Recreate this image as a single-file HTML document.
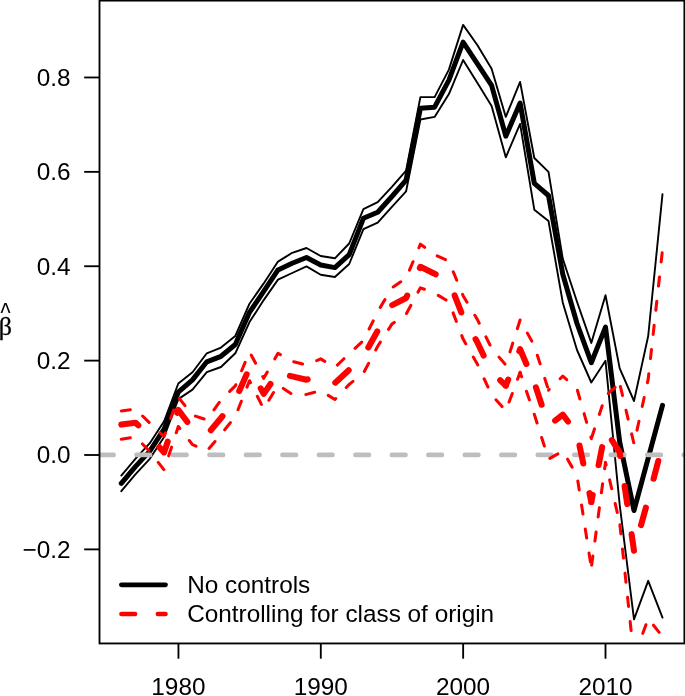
<!DOCTYPE html>
<html lang="en"><head><meta charset="utf-8"><title>Coefficient plot</title>
<style>html,body{margin:0;padding:0;background:#fff}svg{display:block}text{font-family:"Liberation Sans",Arial,sans-serif;font-size:24.33px;fill:#000}.sym{font-family:"Liberation Serif","DejaVu Serif",serif}</style></head><body>
<svg width="685" height="696" viewBox="0 0 685 696">
<rect width="685" height="696" fill="#fff"/>
<defs><clipPath id="c"><rect x="99.50" y="0.60" width="584.90" height="642.85"/></clipPath></defs>
<g clip-path="url(#c)" fill="none" stroke-linejoin="round" stroke-linecap="round">
<polyline points="121.3,475.6 135.6,458.6 149.8,443.2 164.1,421.3 178.3,383.5 192.5,372.2 206.8,353.3 221.0,347.6 235.3,336.0 249.5,303.7 263.7,283.4 278.0,261.6 292.2,252.8 306.5,248.0 320.7,256.0 334.9,258.3 349.2,243.5 363.4,209.2 377.7,202.1 391.9,186.8 406.1,170.7 420.4,97.1 434.6,97.1 448.9,69.6 463.1,24.9 477.3,45.0 491.6,68.7 505.8,116.9 520.1,81.9 534.3,158.0 548.5,171.9 562.8,258.8 577.0,301.8 591.3,342.9 605.5,295.2 619.7,368.4 634.0,401.0 648.2,336.0 662.5,194.1" stroke="#000" stroke-width="1.90"/>
<polyline points="121.3,491.2 135.6,474.2 149.8,458.8 164.1,436.9 178.3,399.1 192.5,389.6 206.8,372.2 221.0,367.0 235.3,353.3 249.5,322.1 263.7,300.1 278.0,279.6 292.2,273.0 306.5,266.4 320.7,274.7 334.9,277.0 349.2,264.0 363.4,229.2 377.7,222.7 391.9,206.9 406.1,191.3 420.4,119.5 434.6,116.9 448.9,94.1 463.1,60.0 477.3,82.7 491.6,105.9 505.8,157.3 520.1,123.9 534.3,209.7 548.5,221.0 562.8,302.7 577.0,350.0 591.3,382.5 605.5,360.8 619.7,504.9 634.0,619.3 648.2,580.8 662.5,617.6" stroke="#000" stroke-width="1.90"/>
<polyline points="121.3,483.4 135.6,466.4 149.8,451.1 164.1,429.2 178.3,392.2 192.5,379.9 206.8,361.8 221.0,356.3 235.3,344.5 249.5,312.3 263.7,291.4 278.0,269.9 292.2,263.3 306.5,257.5 320.7,265.0 334.9,267.6 349.2,254.6 363.4,218.3 377.7,212.2 391.9,196.5 406.1,180.1 420.4,108.2 434.6,107.2 448.9,80.1 463.1,42.1 477.3,63.6 491.6,85.3 505.8,136.2 520.1,103.0 534.3,183.3 548.5,195.5 562.8,274.2 577.0,323.5 591.3,362.7 605.5,327.1 619.7,442.0 634.0,510.5 648.2,458.1 662.5,405.3" stroke="#000" stroke-width="5.00"/>
<line x1="100" y1="454.9" x2="685" y2="454.9" stroke="#bebebe" stroke-width="4.56" stroke-dasharray="13.68 22.80"/>
<polyline points="121.3,410.9 135.6,409.0 149.8,423.2 164.1,436.4 178.3,397.2 192.5,415.1 206.8,419.9 221.0,400.0 235.3,385.9 249.5,351.8 263.7,378.3 278.0,353.3 292.2,361.3 306.5,365.1 320.7,358.9 334.9,367.4 349.2,353.7 363.4,340.5 377.7,311.8 391.9,287.8 406.1,278.2 420.4,244.2 434.6,254.6 448.9,261.2 463.1,295.7 477.3,319.4 491.6,348.3 505.8,365.1 520.1,319.9 534.3,345.7 548.5,390.1" stroke="#f00" stroke-width="3.04" stroke-dasharray="9.12 15.20" stroke-dashoffset="0.00"/>
<polyline points="548.5,390.1 562.8,376.1 577.0,388.9 591.3,438.7" stroke="#f00" stroke-width="3.04" stroke-dasharray="9.12 15.20" stroke-dashoffset="8.10"/>
<polyline points="591.3,438.7 605.5,395.8" stroke="#f00" stroke-width="3.04" stroke-dasharray="9.12 15.20" stroke-dashoffset="23.06"/>
<polyline points="605.5,395.8 619.7,383.5" stroke="#f00" stroke-width="3.04" stroke-dasharray="9.12 15.20" stroke-dashoffset="20.69"/>
<polyline points="619.7,383.5 634.0,443.9 648.2,379.2 662.5,249.8" stroke="#f00" stroke-width="3.04" stroke-dasharray="9.12 15.20" stroke-dashoffset="21.17"/>
<polyline points="121.3,439.2 135.6,436.9 149.8,451.5 164.1,469.9 178.3,426.5 192.5,444.6 206.8,451.0 221.0,434.5 235.3,416.5 249.5,380.7 263.7,409.0 278.0,384.9 292.2,394.4 306.5,394.4 320.7,390.6 334.9,399.5 349.2,384.4 363.4,373.1 377.7,346.2 391.9,324.1 406.1,314.1 420.4,287.8 434.6,293.1 448.9,301.8 463.1,339.1 477.3,364.1 491.6,394.8 505.8,410.9 520.1,372.4" stroke="#f00" stroke-width="3.04" stroke-dasharray="9.12 15.20" stroke-dashoffset="0.00"/>
<polyline points="520.1,372.4 534.3,414.3 548.5,459.1 562.8,451.0 577.0,475.6 591.3,567.7" stroke="#f00" stroke-width="3.04" stroke-dasharray="9.12 15.20" stroke-dashoffset="4.44"/>
<polyline points="591.3,567.7 605.5,462.4 619.7,522.8" stroke="#f00" stroke-width="3.04" stroke-dasharray="9.12 15.20" stroke-dashoffset="21.70"/>
<polyline points="619.7,522.8 634.0,657.9" stroke="#f00" stroke-width="3.04" stroke-dasharray="9.12 15.20" stroke-dashoffset="22.33"/>
<polyline points="634.0,657.9 648.2,618.5 662.5,636.6" stroke="#f00" stroke-width="3.04" stroke-dasharray="9.12 15.20" stroke-dashoffset="22.55"/>
<polyline points="121.3,424.6 135.6,422.7 149.8,436.4 164.1,452.4 178.3,409.9 192.5,428.8 206.8,435.0 221.0,418.0 235.3,400.0 249.5,367.9 263.7,393.9 278.0,373.1" stroke="#f00" stroke-width="6.08" stroke-dasharray="18.24 30.40" stroke-dashoffset="0.00"/>
<polyline points="278.0,373.1 292.2,376.4 306.5,379.7 320.7,375.2 334.9,383.0 349.2,369.8 363.4,356.1 377.7,330.7 391.9,305.3 406.1,298.0 420.4,266.8 434.6,273.8 448.9,280.8 463.1,316.9 477.3,342.2 491.6,372.3 505.8,385.6" stroke="#f00" stroke-width="6.08" stroke-dasharray="18.24 30.40" stroke-dashoffset="36.40"/>
<polyline points="505.8,385.6 520.1,349.2 534.3,382.5" stroke="#f00" stroke-width="6.08" stroke-dasharray="18.24 30.40" stroke-dashoffset="11.75"/>
<polyline points="534.3,382.5 548.5,425.7 562.8,414.7 577.0,433.5" stroke="#f00" stroke-width="6.08" stroke-dasharray="18.24 30.40" stroke-dashoffset="43.46"/>
<polyline points="577.0,433.5 591.3,502.0" stroke="#f00" stroke-width="6.08" stroke-dasharray="18.24 30.40" stroke-dashoffset="36.31"/>
<polyline points="591.3,502.0 605.5,430.0" stroke="#f00" stroke-width="6.08" stroke-dasharray="18.24 30.40" stroke-dashoffset="10.98"/>
<polyline points="605.5,430.0 619.7,452.4 634.0,550.7" stroke="#f00" stroke-width="6.08" stroke-dasharray="18.24 30.40" stroke-dashoffset="36.75"/>
<polyline points="634.0,550.7 648.2,499.2" stroke="#f00" stroke-width="6.08" stroke-dasharray="18.24 30.40" stroke-dashoffset="22.15"/>
<polyline points="648.2,499.2 662.5,445.0" stroke="#f00" stroke-width="6.08" stroke-dasharray="18.24 30.40" stroke-dashoffset="27.42"/>
<line x1="121.4" y1="584.8" x2="165.5" y2="584.8" stroke="#000" stroke-width="4.80"/>
<line x1="121.4" y1="614" x2="165.5" y2="614" stroke="#f00" stroke-width="4.56" stroke-dasharray="13.68 22.80"/>
</g>
<g fill="none" stroke="#000" stroke-width="1.85" stroke-linecap="butt">
<rect x="99.50" y="0.60" width="584.90" height="642.85"/>
<line x1="178.45" y1="643.45" x2="178.45" y2="658.7"/>
<line x1="320.80" y1="643.45" x2="320.80" y2="658.7"/>
<line x1="463.15" y1="643.45" x2="463.15" y2="658.7"/>
<line x1="605.50" y1="643.45" x2="605.50" y2="658.7"/>
<line x1="84.2" y1="549.38" x2="99.5" y2="549.38"/>
<line x1="84.2" y1="455.00" x2="99.5" y2="455.00"/>
<line x1="84.2" y1="360.62" x2="99.5" y2="360.62"/>
<line x1="84.2" y1="266.24" x2="99.5" y2="266.24"/>
<line x1="84.2" y1="171.86" x2="99.5" y2="171.86"/>
<line x1="84.2" y1="77.48" x2="99.5" y2="77.48"/>
</g>
<text x="178.4" y="695" text-anchor="middle">1980</text>
<text x="320.8" y="695" text-anchor="middle">1990</text>
<text x="463.1" y="695" text-anchor="middle">2000</text>
<text x="605.5" y="695" text-anchor="middle">2010</text>
<text x="70.6" y="557.8" text-anchor="end">−0.2</text>
<text x="70.6" y="463.4" text-anchor="end">0.0</text>
<text x="70.6" y="369.1" text-anchor="end">0.2</text>
<text x="70.6" y="274.7" text-anchor="end">0.4</text>
<text x="70.6" y="180.3" text-anchor="end">0.6</text>
<text x="70.6" y="85.9" text-anchor="end">0.8</text>
<text x="187.2" y="593">No controls</text>
<text x="187.2" y="622.2">Controlling for class of origin</text>
<text transform="translate(0.6,322.0) scale(0.88,1.15)" x="0" y="0" style="font-size:24.33px">^</text>
<text class="sym" x="-1.3" y="334.8" style="font-size:26px;stroke:#000;stroke-width:.3px">β</text>
</svg></body></html>
